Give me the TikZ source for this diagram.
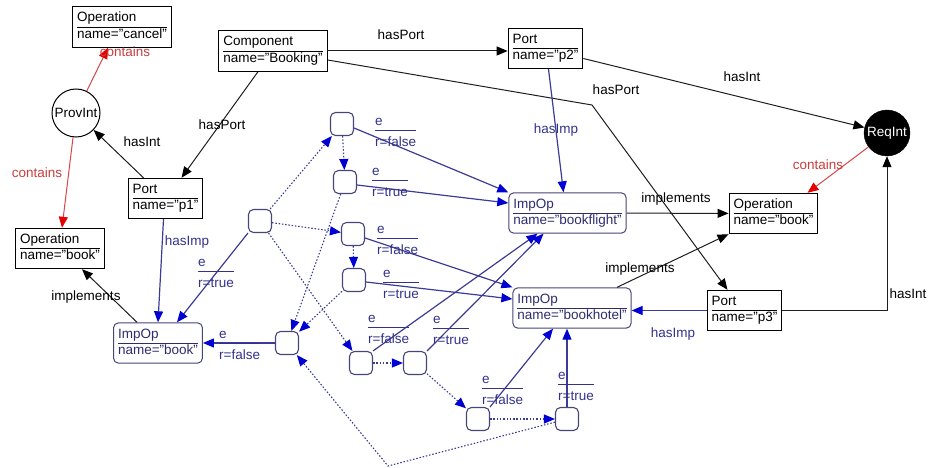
\documentclass[tikz,border=0pt]{standalone}
\usepackage{fontspec}
\setmainfont{Liberation Sans}
\usetikzlibrary{arrows.meta,calc}
\definecolor{navy}{RGB}{50,50,140}
\definecolor{bline}{RGB}{60,60,150}
\definecolor{bhead}{RGB}{0,0,210}
\definecolor{bbox}{RGB}{70,70,120}
\definecolor{impcol}{RGB}{45,45,110}
\definecolor{rtext}{RGB}{200,60,60}
\definecolor{rline}{RGB}{215,70,70}
\definecolor{rhead}{RGB}{230,0,0}
\definecolor{ktext}{RGB}{30,30,30}
\newcommand{\umltext}[2]{\begin{tabular}{@{}l@{}}#1\\\hline #2\end{tabular}}
\newcommand{\elab}[1]{\begin{tabular}{@{}l@{}}e\\\hline\rule{0pt}{16pt}#1\end{tabular}}
\begin{document}
\begin{tikzpicture}[x=1pt,y=-1pt,font=\fontsize{13.5}{16}\selectfont,
  umlbox/.style={draw=black, line width=1pt, fill=white, inner xsep=4.5pt, inner ysep=4pt, text=black},
  impbox/.style={umlbox, draw=bbox, rounded corners=5pt, text=impcol},
  statebox/.style={draw=bbox, line width=1.1pt, fill=white, rounded corners=5pt, minimum width=23pt, minimum height=23pt, inner sep=0pt},
  karrow/.style={draw=ktext, line width=1pt, -{Triangle[length=11pt,width=9pt,color=black]}},
  barrow/.style={draw=bline, line width=1.2pt, -{Triangle[length=11pt,width=9pt,color=bhead]}},
  dotarrow/.style={barrow, line width=1.1pt, dash pattern=on 1.5pt off 1.8pt},
  rarrow/.style={draw=rline, line width=1pt, -{Triangle[length=11pt,width=9pt,color=rhead]}},
  klab/.style={inner sep=0pt, text=black},
  blab/.style={inner sep=0pt, text=navy},
  rlab/.style={inner sep=0pt, text=rtext},
  elabel/.style={anchor=north west, inner sep=0pt, text=navy}]
\useasboundingbox (0,0) rectangle (928,468);

% boxes
\node[umlbox] (cancel) at (122,27) {\umltext{Operation}{name="cancel"}};
\node[umlbox] (comp) at (273,51) {\umltext{Component}{name="Booking"}};
\node[umlbox] (p2) at (545.5,48.5) {\umltext{Port}{name="p2"}};
\node[umlbox] (p1) at (165.5,198.5) {\umltext{Port}{name="p1"}};
\node[umlbox] (opl) at (60,248.5) {\umltext{Operation}{name="book"}};
\node[umlbox] (opr) at (773.5,213.5) {\umltext{Operation}{name="book"}};
\node[umlbox] (p3) at (744.5,310.5) {\umltext{Port}{name="p3"}};
\node[impbox] (bf) at (567.5,213) {\umltext{ImpOp}{name="bookflight"}};
\node[impbox] (bh) at (572,308) {\umltext{ImpOp}{name="bookhotel"}};
\node[impbox] (book) at (158,343) {\umltext{ImpOp}{name="book"}};
\node[circle, draw=black, line width=1pt, fill=white, minimum size=48pt, inner sep=0pt] (prov) at (76,113) {ProvInt};
\node[circle, draw=black, fill=black, text=white, minimum size=46pt, inner sep=0pt] (req) at (887,133) {ReqInt};

% states
\node[statebox] (s0) at (260,221) {};
\node[statebox] (s1) at (342,124) {};
\node[statebox] (s2) at (345,182) {};
\node[statebox] (s3) at (353,234) {};
\node[statebox] (s4) at (354,280) {};
\node[statebox] (s5) at (287,343) {};
\node[statebox] (s6) at (361,363) {};
\node[statebox] (s7) at (415,363) {};
\node[statebox] (s8) at (478,419) {};
\node[statebox] (s9) at (567,419) {};
\coordinate (bendA) at (592,105);
\coordinate (bendB) at (388,466);

% black edges
\draw[karrow] (comp.east) -- (comp.east -| p2.west);
\draw[karrow] ([yshift=-9pt]comp.east) -- (bendA) -- ([xshift=-17pt]p3.north);
\draw[karrow] ([xshift=-15pt]comp.south) -- ([xshift=16pt]p1.north);
\draw[karrow] ([xshift=-22pt]p1.north) -- (prov);
\draw[karrow] ([yshift=-10pt]p2.east) -- (req);
\draw[karrow] (p3.east) -| (req.south);
\draw[karrow] (bf) -- (opr);
\draw[karrow] ([xshift=45pt]bh.north) -- (opr.south west);
\draw[karrow] ([xshift=-21pt]book.north) -- ([xshift=22pt]opl.south);

% red edges
\draw[rarrow] (prov) -- ([xshift=-14pt]cancel.south);
\draw[rarrow] (prov) -- ([xshift=2pt]opl.north);
\draw[rarrow] (req) -- ([xshift=34pt]opr.north);

% hasImp edges
\draw[barrow] ([xshift=-2pt]p1.south) -- (book.north);
\draw[barrow] ([xshift=3pt]p2.south) -- ([xshift=-4pt]bf.north);
\draw[barrow] (p3.west) -- (p3.west -| bh.east);

% state edges
\draw[barrow] (s0.south west) -- ([xshift=19pt]book.north);
\draw[barrow] (s5.west) -- (s5.west -| book.east);
\draw[barrow] ([yshift=-4pt]s1.east) -- (bf.north west);
\draw[barrow] ([yshift=-3pt]s2.east) -- ([yshift=10pt]bf.west);
\draw[barrow] ([yshift=-4pt]s3.east) -- (bh.north west);
\draw[barrow] ([yshift=-2pt]s4.east) -- ([yshift=9pt]bh.west);
\draw[barrow] (s6.north east) -- ([xshift=-30pt]bf.south);
\draw[barrow] (s7.north east) -- ([xshift=-24pt]bf.south);
\draw[barrow] (s8.north east) -- ([xshift=-19pt]bh.south);
\draw[barrow] (s9.north) -- (s9.north |- bh.south);

% dotted transitions
\draw[dotarrow] (s0) -- (s1);
\draw[dotarrow] (s1) -- (s2);
\draw[dotarrow] (s0) -- (s3);
\draw[dotarrow] (s3) -- (s4);
\draw[dotarrow] (s2) -- (s5);
\draw[dotarrow] (s4) -- (s5);
\draw[dotarrow] (s0) -- (s6);
\draw[dotarrow] (s6) -- (s7);
\draw[dotarrow] (s7) -- (s8);
\draw[dotarrow] (s8) -- (s9);
\draw[dotarrow] (s9) -- (bendB) -- (s5);

% labels
\node[klab] (t1) at (401,35) {hasPort};
\node[klab] (t2) at (616,90) {hasPort};
\node[klab] (t3) at (222,125) {hasPort};
\node[klab] (t4) at (142,142) {hasInt};
\node[klab] (t5) at (742,77) {hasInt};
\node[klab] (t6) at (908,294) {hasInt};
\node[klab] (t7) at (676,199) {implements};
\node[klab] (t8) at (640,269) {implements};
\node[klab] (t9) at (86,297) {implements};
\node[rlab] (t10) at (125,52) {contains};
\node[rlab] (t11) at (37,173) {contains};
\node[rlab] (t12) at (818,165) {contains};
\node[blab] (t13) at (187,242) {hasImp};
\node[blab] (t14) at (556,130) {hasImp};
\node[blab] (t15) at (673,334) {hasImp};

\node[elabel] (l1) at (375,114) {\elab{r=false}};
\node[elabel] (l2) at (372,164) {\elab{r=true}};
\node[elabel] (l3) at (377,222) {\elab{r=false}};
\node[elabel] (l4) at (383,266) {\elab{r=true}};
\node[elabel] (l5) at (198,255) {\elab{r=true}};
\node[elabel] (l6) at (219,327) {\elab{r=false}};
\node[elabel] (l7) at (368,311) {\elab{r=false}};
\node[elabel] (l8) at (433,312) {\elab{r=true}};
\node[elabel] (l9) at (482,372) {\elab{r=false}};
\node[elabel] (l10) at (558,368) {\elab{r=true}};
\end{tikzpicture}
\end{document}
